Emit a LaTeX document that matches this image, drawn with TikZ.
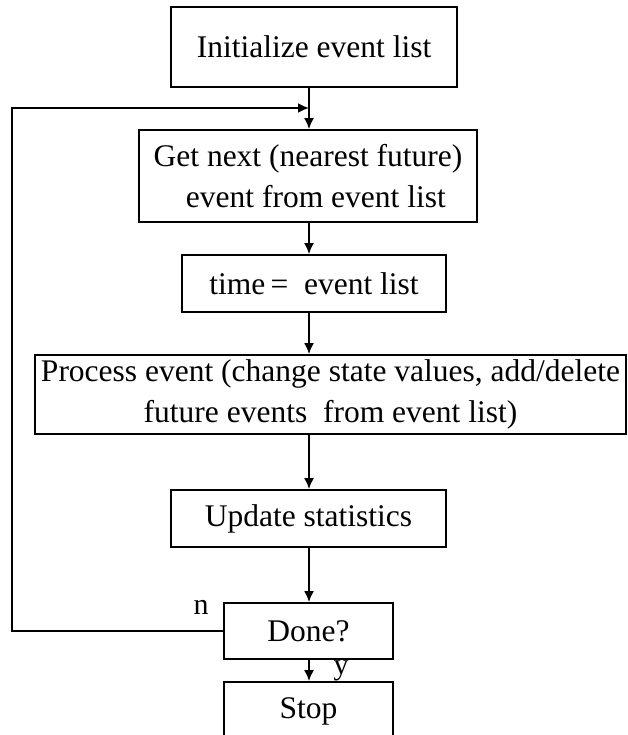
\documentclass[tikz,border=0pt]{standalone}
\usepackage{fontspec}
\setmainfont{Liberation Serif}
\usetikzlibrary{arrows.meta}
\begin{document}
\begin{tikzpicture}[x=1pt,y=-1pt,
  box/.style={draw,line width=1.8pt,rectangle,inner sep=0pt,align=center,
    font=\fontsize{31.5}{41}\selectfont},
  flow/.style={line width=1.8pt,-{Latex[length=11pt,width=10pt]}},
  lbl/.style={inner sep=0pt,font=\fontsize{30}{32}\selectfont}]
\useasboundingbox (0,0) rectangle (628,735);
\clip (0,0) rectangle (628,735);
\fill[white] (0,0) rectangle (628,735);
% vertical axis of the main flow and the corner of the return loop
\coordinate (axis) at (309,0);
\coordinate (loopx) at (12,0);
\coordinate (join) at (309,108);

\node[box,minimum width=286pt,minimum height=80pt] (init) at (314,47) {Initialize event list};
\node[box,minimum width=338pt,minimum height=92pt] (next) at (308,176)
  {Get next (nearest future)\\\hspace{0.5em}event from event list};
\node[box,minimum width=264pt,minimum height=57pt] (time) at (314,283.5) {time\,=\ \ event list};
\node[box,minimum width=591pt,minimum height=79pt] (proc) at (330.5,394.5)
  {Process event (change state values, add/delete\\future events\ \ from event list)};
\node[box,minimum width=275pt,minimum height=57pt] (upd) at (308.5,518.5) {Update statistics};
\node[box,minimum width=169pt,minimum height=56pt] (done) at (308.5,631) {Done?};
\node[box,minimum width=169pt,minimum height=78pt] (stop) at (308.5,721) {};
\node[font=\fontsize{31.5}{41}\selectfont,inner sep=0pt] (stoptxt) at (308.5,711) {Stop};

\draw[flow] (init.south -| axis) -- (next.north -| axis);
\draw[flow] (next.south -| axis) -- (time.north -| axis);
\draw[flow] (time.south -| axis) -- (proc.north -| axis);
\draw[flow] (proc.south -| axis) -- (upd.north -| axis);
\draw[flow] (upd.south -| axis) -- (done.north -| axis);
\draw[flow] (done.south -| axis) -- (stop.north -| axis);
\draw[flow] (done.west) -| (join -| loopx) -- (join);

\node[lbl] (nlab) at (201,607) {n};
\node[lbl] (ylab) at (341,671) {y};
\end{tikzpicture}
\end{document}
